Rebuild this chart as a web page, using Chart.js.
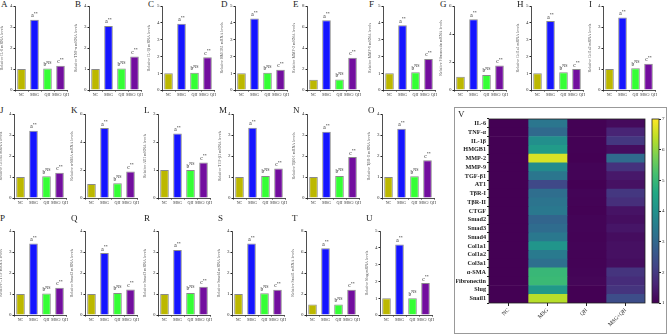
<!DOCTYPE html>
<html>
<head>
<meta charset="utf-8">
<script src="https://cdn.jsdelivr.net/npm/chart.js@4.4.0/dist/chart.umd.min.js"></script>
<style>
body{margin:0;background:#fff;width:669px;height:336px;position:relative;overflow:hidden;font-family:'Liberation Serif',serif}
canvas{position:absolute}
.lt{position:absolute;font-size:9px;line-height:9px;color:#222}
#frame{position:absolute;left:454px;top:107px;width:213px;height:227px;border:1px solid #999;box-sizing:border-box}
</style>
</head>
<body>
<div id="frame"></div>
<script>
var groups = ['NC', 'MSG', 'QH', 'MSG+QH'];
var panels = ['A','B','C','D','E','F','G','H','I','J','K','L','M','N','O','P','Q','R','S','T','U'];
var genes = ['IL-6','TNF-α','IL-1β','HMGB1','MMP-2','MMP-9','Fibronectin','Col1a1','Col1a2',
             'Col3a1','α-SMA','AT1','TGF-β1','TβR-I','TβR-II',
             'CTGF','Smad2','Smad3','Smad4','Snail1','Slug'];
var ncVals    = [1,1,1,1,0.97,1,0.95,1,1, 1,1,1,1,1,1, 1,1,1,1,1,1];
var msgVals   = [3.35,3.05,3.95,4.25,6.65,3.85,5.05,4.1,3.45, 3.2,5.0,2.3,3.35,3.15,3.3, 3.4,2.95,3.1,3.4,6.35,4.2];
var qhVals    = [1.02,1.02,1.02,1.02,1.0,1.05,1.08,1.05,1.03, 1.03,1.05,1.0,1.05,1.05,1.03, 1.02,1.05,1.05,1.03,1.0,1.0];
var comboVals = [1.15,1.6,1.95,1.2,3.08,1.85,1.75,1.25,1.25, 1.2,1.9,1.27,1.4,1.95,1.8, 1.3,1.22,1.35,1.2,2.4,1.9];
var yMax  = [4,4,5,5,8,5,6,5,4, 4,6,3,4,4,4, 4,4,4,4,8,5];
var yStep = [1,1,1,1,2,1,2,1,1, 1,2,1,1,1,1, 1,1,1,1,2,1];
var marks = [null, ['a','**'], ['b','NS'], ['c','**']];

var heatRows = ['IL-6','TNF-α','IL-1β','HMGB1','MMP-2','MMP-9','TGF-β1','AT1','TβR-I','TβR-II','CTGF',
                'Smad2','Smad3','Smad4','Col1a1','Col1a2','Col3a1','α-SMA','Fibronectin','Slug','Snail1'];
var scaleTicks = [1,2,3,4,5,6,7];

var barColors = ['#bcb800', '#1515ff', '#35ff35', '#720e9e'];
var serif = "'Liberation Serif', serif";

// layout of the small panels
var axisX = [[15,89,162,235,307,383,454,531,603],[14,85,158,233,307,382],[14,85,158,232,306,380]];
var rowTop = [0, 108, 225];
var letterTop = [0, 106, 214];

function addCanvas(left, top, w, h) {
  var c = document.createElement('canvas');
  c.width = w; c.height = h;
  c.style.left = left + 'px'; c.style.top = top + 'px';
  c.style.width = w + 'px'; c.style.height = h + 'px';
  document.body.appendChild(c);
  return c;
}
function addLetter(txt, left, top) {
  var d = document.createElement('div');
  d.className = 'lt'; d.textContent = txt;
  d.style.left = left + 'px'; d.style.top = top + 'px';
  document.body.appendChild(d);
}

var markPlugin = {
  id: 'marks',
  afterDatasetsDraw: function(chart) {
    var ctx = chart.ctx;
    var meta = chart.getDatasetMeta(0);
    ctx.save();
    ctx.fillStyle = '#222';
    ctx.textBaseline = 'alphabetic';
    meta.data.forEach(function(bar, i) {
      var m = marks[i];
      if (!m) return;
      ctx.font = '5.5px ' + serif;
      var w1 = ctx.measureText(m[0]).width;
      ctx.font = '4px ' + serif;
      var w2 = ctx.measureText(m[1]).width;
      var x0 = bar.x - (w1 + w2) / 2;
      var y0 = bar.y - 2.5;
      ctx.font = '5.5px ' + serif;
      ctx.fillText(m[0], x0, y0);
      ctx.font = '4px ' + serif;
      ctx.fillText(m[1], x0 + w1, y0 - 2.5);
    });
    ctx.restore();
  }
};

var idx = 0;
for (var r = 0; r < 3; r++) {
  for (var p = 0; p < axisX[r].length; p++) {
    (function(k, ax, top) {
      addLetter(panels[k], ax - 14, letterTop[r]);
      var cv = addCanvas(ax - 15, top, 72, 102);
      new Chart(cv, {
        type: 'bar',
        data: {
          labels: groups,
          datasets: [{
            data: [ncVals[k], msgVals[k], qhVals[k], comboVals[k]],
            backgroundColor: barColors,
            borderColor: '#8a8a8a',
            borderWidth: 1,
            barPercentage: 0.66,
            categoryPercentage: 1
          }]
        },
        options: {
          responsive: false,
          animation: false,
          events: [],
          layout: { padding: { top: 6, right: 5, left: 0, bottom: 0 } },
          plugins: { legend: { display: false }, tooltip: { enabled: false } },
          scales: {
            x: {
              grid: { display: true, drawOnChartArea: false, tickLength: 1.5, color: '#222' },
              border: { color: '#222', width: 0.8 },
              ticks: { font: { size: 4, family: serif }, color: '#333', padding: 1, maxRotation: 0, autoSkip: false },
              afterFit: function(s) { s.height = 12; }
            },
            y: {
              min: 0, max: yMax[k],
              grid: { display: true, drawOnChartArea: false, tickLength: 1.5, color: '#222' },
              border: { color: '#222', width: 0.8 },
              ticks: { stepSize: yStep[k], font: { size: 5, family: serif }, color: '#333', padding: 1 },
              title: { display: true, text: 'Relative ' + genes[k] + ' mRNA levels', font: { size: 4, family: serif }, color: '#555', padding: 0 },
              afterFit: function(s) { s.width = 15; }
            }
          }
        },
        plugins: [markPlugin]
      });
    })(idx, axisX[r][p], rowTop[r]);
    idx++;
  }
}

// viridis colour map
var vStops = ['#440154','#482475','#414487','#355f8d','#2a788e','#21918c','#22a884','#44bf70','#7ad151','#bddf26','#fde725'];
function hexRgb(h) { return [parseInt(h.substr(1,2),16), parseInt(h.substr(3,2),16), parseInt(h.substr(5,2),16)]; }
function viridis(t) {
  t = Math.max(0, Math.min(1, t));
  var f = t * (vStops.length - 1);
  var i = Math.min(Math.floor(f), vStops.length - 2);
  var a = hexRgb(vStops[i]), b = hexRgb(vStops[i + 1]), u = f - i;
  return 'rgb(' + Math.round(a[0] + (b[0]-a[0])*u) + ',' + Math.round(a[1] + (b[1]-a[1])*u) + ',' + Math.round(a[2] + (b[2]-a[2])*u) + ')';
}
function valColor(v) { return viridis((v - 1) / 6); }

var groupVals = [ncVals, msgVals, qhVals, comboVals];
addLetter('V', 458, 110);

var frameBox = {
  id: 'frameBox',
  afterDatasetsDraw: function(chart) {
    var a = chart.chartArea, ctx = chart.ctx;
    ctx.save();
    ctx.strokeStyle = '#222'; ctx.lineWidth = 0.8;
    ctx.strokeRect(a.left, a.top, a.right - a.left, a.bottom - a.top);
    ctx.restore();
  }
};

var hv = addCanvas(456, 112, 194, 220);
new Chart(hv, {
  type: 'bar',
  data: {
    labels: heatRows,
    datasets: groups.map(function(g, j) {
      return {
        label: g,
        data: heatRows.map(function() { return 1; }),
        backgroundColor: heatRows.map(function(name) { return valColor(groupVals[j][genes.indexOf(name)]); }),
        borderWidth: 0,
        barPercentage: 1,
        categoryPercentage: 1,
        xAxisID: 'x'
      };
    })
  },
  options: {
    indexAxis: 'y',
    responsive: false,
    animation: false,
    events: [],
    layout: { padding: { top: 7, right: 5, left: 0, bottom: 0 } },
    plugins: { legend: { display: false }, tooltip: { enabled: false } },
    scales: {
      x: { type: 'linear', stacked: true, min: 0, max: 4, display: false },
      x2: {
        type: 'category', labels: groups, offset: true, position: 'bottom',
        grid: { drawOnChartArea: false, tickLength: 3, color: '#222' },
        border: { display: false },
        ticks: { maxRotation: 45, minRotation: 45, font: { size: 5.5, family: serif }, color: '#222', padding: 1 },
        afterFit: function(s) { s.height = 29; }
      },
      y: {
        stacked: true,
        grid: { drawOnChartArea: false, tickLength: 2, color: '#222' },
        border: { display: false },
        ticks: { font: { size: 6.2, weight: 'bold', family: serif }, color: '#222', padding: 1, autoSkip: false },
        afterFit: function(s) { s.width = 33; }
      }
    }
  },
  plugins: [frameBox]
});

// colour bar
var cb = addCanvas(648, 112, 21, 196);
new Chart(cb, {
  type: 'bar',
  data: {
    labels: [''],
    datasets: [{
      data: [[1, 7]],
      backgroundColor: function(c) {
        var a = c.chart.chartArea;
        if (!a) return '#21918c';
        var g = c.chart.ctx.createLinearGradient(0, a.bottom, 0, a.top);
        for (var i = 0; i < vStops.length; i++) g.addColorStop(i / (vStops.length - 1), vStops[i]);
        return g;
      },
      borderWidth: 0,
      barPercentage: 1,
      categoryPercentage: 1
    }]
  },
  options: {
    responsive: false,
    animation: false,
    events: [],
    layout: { padding: { top: 7, right: 0, left: 4, bottom: 5 } },
    plugins: { legend: { display: false }, tooltip: { enabled: false } },
    scales: {
      x: { display: false },
      y: {
        position: 'right', min: 1, max: 7,
        afterBuildTicks: function(s) { s.ticks = scaleTicks.map(function(v) { return { value: v }; }); },
        grid: { drawOnChartArea: false, tickLength: 2, color: '#222' },
        border: { display: false },
        ticks: { font: { size: 5, family: serif }, color: '#222', padding: 1 },
        afterFit: function(s) { s.width = 10; }
      }
    }
  },
  plugins: [frameBox]
});
</script>
</body>
</html>
